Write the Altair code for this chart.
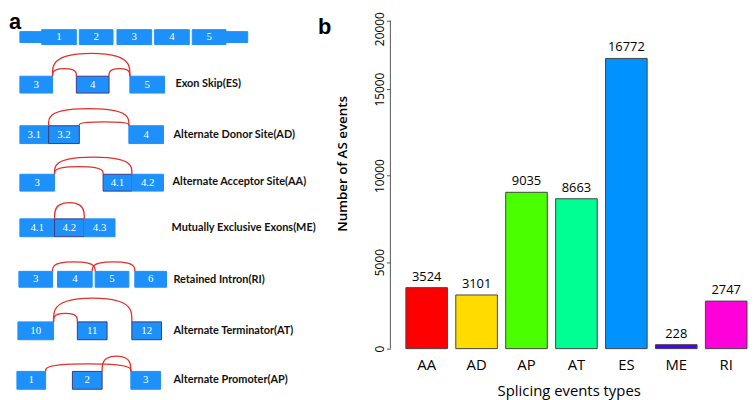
import altair as alt
import pandas as pd

# ---------------- panel b : bar chart ----------------
types = ["AA", "AD", "AP", "AT", "ES", "ME", "RI"]
counts = [3524, 3101, 9035, 8663, 16772, 228, 2747]
bar_colors = ["#FF0000", "#FFDB00", "#49FF00", "#00FF92", "#0092FF", "#4900FF", "#FF00DB"]
y_tick_values = [0, 5000, 10000, 15000, 18950]
y_axis_top = [18950]
y_domain_max = 19580

# ---------------- panel a : splicing diagram ----------------
exon_x0 = [20, 42, 80, 118, 156, 194, 228, 20, 77, 131, 20, 49, 130, 20, 104, 133,
           20, 55, 85, 19, 58, 96, 136, 18, 78, 133, 17, 73, 132]
exon_x1 = [42, 77, 114, 153, 191, 228, 250, 53, 110, 166, 49, 80, 165, 55, 133, 165,
           55, 85, 116, 53, 93, 130, 168, 54, 108, 163, 46, 103, 162]
exon_top = [30, 28, 28, 28, 28, 28, 30, 75, 75, 75, 125, 125, 125, 174, 174, 174,
            219, 219, 219, 272, 272, 272, 272, 323, 323, 323, 373, 373, 373]
exon_bottom = [41, 43, 43, 43, 43, 43, 41, 92, 92, 92, 143, 143, 143, 191, 191, 191,
               237, 237, 237, 288, 288, 288, 288, 341, 341, 341, 391, 391, 391]
exon_text = ["", "1", "2", "3", "4", "5", "", "3", "4", "5", "3.1", "3.2", "4", "3", "4.1", "4.2",
             "4.1", "4.2", "4.3", "3", "4", "5", "6", "10", "11", "12", "1", "2", "3"]
exon_alt = [0, 0, 0, 0, 0, 0, 0, 0, 1, 0, 0, 1, 0, 0, 1, 0,
            0, 1, 0, 0, 0, 0, 0, 0, 1, 1, 0, 1, 0]

arc_x0 = [53, 53, 110, 49, 80, 55, 55, 55, 53, 93, 54, 54, 46, 103]
arc_x1 = [131, 77, 131, 130, 130, 133, 104, 85, 96, 136, 133, 78, 132, 132]
arc_base = [75, 75, 75, 125, 125, 174, 174, 219, 272, 272, 323, 323, 373, 373]
arc_peak = [51, 67, 67, 107, 121, 156, 166, 202, 262, 262, 298, 314, 365, 357]

event_names = ["Exon Skip(ES)", "Alternate Donor Site(AD)", "Alternate Acceptor Site(AA)",
               "Mutually Exclusive Exons(ME)", "Retained Intron(RI)",
               "Alternate Terminator(AT)", "Alternate Promoter(AP)"]
event_x = [177, 175, 174, 173, 175, 175, 175]
event_y = [83, 134, 182, 228, 281, 332, 382]

panel_letters = ["a", "b"]
panel_letter_x = [9, 321]
panel_letter_y = [27, 32]

EXON_BLUE = "#1E90FA"
ARC_RED = "#E2302B"
LABEL_FONT = "Lato"

exons = pd.DataFrame({"x0": exon_x0, "x1": exon_x1, "t": exon_top, "b": exon_bottom,
                      "txt": exon_text, "alt": exon_alt})
exons["xm"] = (exons.x0 + exons.x1) / 2
exons["ym"] = (exons.t + exons.b) / 2

arc_rows = []
for i, (a0, a1, ab, ap) in enumerate(zip(arc_x0, arc_x1, arc_base, arc_peak)):
    for k, (xx, yy) in enumerate([(a0, ab), (a0, ap), (a1, ap), (a1, ab)]):
        arc_rows.append({"arc": i, "k": k, "x": xx, "y": yy})
arcs = pd.DataFrame(arc_rows)

events = pd.DataFrame({"name": event_names, "x": event_x, "y": event_y})
letters = pd.DataFrame({"t": panel_letters, "x": panel_letter_x, "y": panel_letter_y})

WA, HA = 331, 392
xs = alt.Scale(domain=[8, 8 + WA], nice=False, zero=False)
ys = alt.Scale(domain=[8, 8 + HA], nice=False, zero=False, reverse=True)

rects = alt.Chart(exons).mark_rect(strokeWidth=1).encode(
    x=alt.X("x0:Q", scale=xs, axis=None),
    x2="x1:Q",
    y=alt.Y("t:Q", scale=ys, axis=None),
    y2="b:Q",
    fill=alt.value(EXON_BLUE),
    stroke=alt.Stroke("alt:N", scale=alt.Scale(domain=[0, 1], range=[EXON_BLUE, "#3D3A80"]), legend=None),
)
exon_labels = alt.Chart(exons).mark_text(
    font="Liberation Serif", fontSize=11, color="white", align="center", baseline="middle"
).encode(x=alt.X("xm:Q", scale=xs, axis=None), y=alt.Y("ym:Q", scale=ys, axis=None), text="txt:N")

arc_lines = alt.Chart(arcs).mark_line(interpolate="basis", color=ARC_RED, strokeWidth=1.3).encode(
    x=alt.X("x:Q", scale=xs, axis=None), y=alt.Y("y:Q", scale=ys, axis=None),
    detail="arc:N", order="k:Q",
)
event_text = alt.Chart(events).mark_text(
    font=LABEL_FONT, fontSize=11, fontWeight="bold", align="left", baseline="middle", color="#111"
).encode(x=alt.X("x:Q", scale=xs, axis=None), y=alt.Y("y:Q", scale=ys, axis=None), text="name:N")

letter_text = alt.Chart(letters).mark_text(
    font="Liberation Sans", fontSize=22, fontWeight="bold", align="left", baseline="alphabetic", color="black"
).encode(x=alt.X("x:Q", scale=xs, axis=None), y=alt.Y("y:Q", scale=ys, axis=None), text="t:N")

panel_a = alt.layer(rects, arc_lines, exon_labels, event_text, letter_text).properties(width=WA, height=HA)

# ---------------- panel b ----------------
bars_df = pd.DataFrame({"type": types, "count": counts, "color": bar_colors})
WB, HB = 360, 342

xb = alt.X("type:N", sort=types,
           scale=alt.Scale(paddingInner=0.167, paddingOuter=0.155, align=1),
           axis=alt.Axis(title="Splicing events types", labelAngle=0, domain=False, ticks=False,
                         tickSize=0, labelFontSize=15, labelPadding=9, labelColor="black",
                         titleFontSize=15, titleFontWeight="normal", titleColor="black",
                         titlePadding=11))
yb = alt.Y("count:Q", scale=alt.Scale(domain=[0, y_domain_max], nice=False, zero=True),
           axis=alt.Axis(title="Number of AS events", values=y_tick_values,
                         labelExpr="datum.value > 16000 ? '20000' : format(datum.value, 'd')",
                         labelOffset={"condition": {"test": "datum.value > 16000", "value": 8}, "value": 0},
                         domain=False, grid=False, tickSize=4, tickColor="#555",
                         labelAngle=270, labelAlign="center", labelBaseline="alphabetic",
                         labelPadding=3, labelFontSize=12, labelColor="black",
                         titleFontSize=13.5, titleFontWeight=600, titleColor="black",
                         titleX=-48, titleY=155, titleAlign="center", titleBaseline="middle"))

bars = alt.Chart(bars_df).mark_bar(stroke="#444", strokeWidth=1).encode(
    x=xb, y=yb, color=alt.Color("color:N", scale=None))
bar_text = alt.Chart(bars_df).mark_text(fontSize=13, baseline="alphabetic", dy=-7, color="black").encode(
    x=xb, y=yb, text=alt.Text("count:Q", format="d"))
axis_line = alt.Chart(pd.DataFrame({"lo": [0], "hi": y_axis_top})).mark_rule(color="#555", strokeWidth=1).encode(
    x=alt.value(0), y=alt.Y("lo:Q", scale=alt.Scale(domain=[0, y_domain_max], nice=False)), y2="hi:Q")

panel_b = alt.layer(bars, bar_text, axis_line).properties(width=WB, height=HB)

chart = alt.hconcat(panel_a, panel_b, spacing=0).properties(
    padding={"left": 0, "top": 0, "right": 0, "bottom": 0}
).configure(font="Open Sans", view={"stroke": "transparent", "strokeWidth": 0})

chart.save("out.html", embed_options={"renderer": "svg", "actions": False})
